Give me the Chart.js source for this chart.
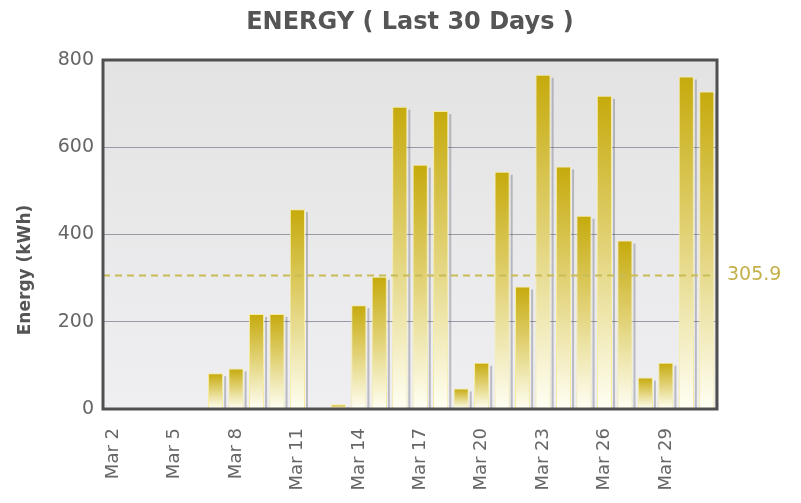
<!DOCTYPE html>
<html>
<head>
<meta charset="utf-8">
<script src="https://cdn.jsdelivr.net/npm/chart.js@4/dist/chart.umd.min.js"></script>
<style>
  body { margin: 0; background: #fff; }
  #wrap { width: 801px; height: 503px; position: relative; }
</style>
</head>
<body>
<div id="wrap"><canvas id="energy-chart"></canvas></div>
<script>
// days shown on the x axis (Mar 2 .. Mar 31)
const days = ['Mar 2','Mar 3','Mar 4','Mar 5','Mar 6','Mar 7','Mar 8','Mar 9','Mar 10','Mar 11',
  'Mar 12','Mar 13','Mar 14','Mar 15','Mar 16','Mar 17','Mar 18','Mar 19','Mar 20','Mar 21',
  'Mar 22','Mar 23','Mar 24','Mar 25','Mar 26','Mar 27','Mar 28','Mar 29','Mar 30','Mar 31']
// daily energy in kWh
const energy = [0, 0, 0, 0, 0, 82, 93, 218, 218, 458,
  0, 11, 238, 303, 693, 560, 683, 47, 106, 544,
  281, 766, 556, 443, 718, 386, 72, 106, 762, 728]
// average over the period, drawn as dashed line
const average = 305.9
const yTicks = [0, 200, 400, 600, 800]
const chartTitle = 'ENERGY ( Last 30 Days )'
const yTitle = 'Energy (kWh)'

const chartCanvas = document.querySelector('#energy-chart')

// background of the plot, titles, frame and average line
const plotDecor = {
  id: 'plotDecor',
  beforeDraw(chart) {
    const { ctx, chartArea: a } = chart
    const g = ctx.createLinearGradient(0, a.top, 0, a.bottom)
    g.addColorStop(0, '#e3e3e3')
    g.addColorStop(1, '#efeff2')
    ctx.save()
    ctx.fillStyle = g
    ctx.fillRect(a.left, a.top, a.right - a.left, a.bottom - a.top)

    // chart title, centred over the plot
    ctx.fillStyle = '#555'
    ctx.font = 'bold 24px "DejaVu Sans"'
    ctx.textAlign = 'center'
    ctx.textBaseline = 'middle'
    ctx.fillText(chartTitle, (a.left + a.right) / 2, 23)

    // y axis title
    ctx.translate(26, 270)
    ctx.rotate(-Math.PI / 2)
    ctx.font = 'bold 17px "DejaVu Sans"'
    ctx.fillText(yTitle, 0, 0)
    ctx.restore()
  },
  beforeDatasetsDraw(chart) {
    // little grey shadow right of each bar
    const { ctx } = chart
    const meta = chart.getDatasetMeta(0)
    ctx.save()
    ctx.fillStyle = 'rgba(90,90,110,0.35)'
    meta.data.forEach((bar, i) => {
      if (!energy[i]) return
      const w = bar.width
      ctx.fillRect(bar.x + w / 2 + 1, bar.y + 3, 2, bar.base - bar.y - 3)
    })
    ctx.restore()
  },
  afterDatasetsDraw(chart) {
    const { ctx, chartArea: a, scales } = chart
    const y = scales.y.getPixelForValue(average)
    ctx.save()
    ctx.strokeStyle = '#c9bb55'
    ctx.lineWidth = 2
    ctx.setLineDash([7, 5])
    ctx.beginPath()
    ctx.moveTo(a.left, y)
    ctx.lineTo(a.right, y)
    ctx.stroke()
    ctx.setLineDash([])
    ctx.fillStyle = '#c4b04a'
    ctx.font = '19px "DejaVu Sans"'
    ctx.textBaseline = 'middle'
    ctx.fillText(average.toFixed(1), a.right + 10, y)
    // frame
    ctx.strokeStyle = '#505050'
    ctx.lineWidth = 3
    ctx.strokeRect(a.left, a.top, a.right - a.left, a.bottom - a.top)
    ctx.restore()
  }
}

const energyChart = new Chart(chartCanvas, {
  type: 'bar',
  data: {
    labels: days,
    datasets: [{
      data: energy,
      backgroundColor: function(context) {
        const chart = context.chart
        const a = chart.chartArea
        if (!a) return '#c8ad10'
        const v = context.raw || 0
        const top = chart.scales.y.getPixelForValue(v)
        const g = chart.ctx.createLinearGradient(0, top, 0, a.bottom)
        g.addColorStop(0, '#c6aa0c')
        g.addColorStop(0.45, '#e0d070')
        g.addColorStop(1, '#fffff4')
        return g
      },
      borderColor: '#f6ec9a',
      borderWidth: 1,
      barPercentage: 0.74,
      categoryPercentage: 1
    }]
  },
  plugins: [plotDecor],
  options: {
    responsive: true,
    maintainAspectRatio: false,
    animation: false,
    layout: { padding: { left: 0, right: 84, top: 60, bottom: 0 } },
    plugins: {
      legend: { display: false },
      tooltip: { enabled: false },
      title: { display: false }
    },
    scales: {
      x: {
        offset: true,
        grid: { display: false },
        border: { display: false },
        ticks: {
          color: '#666',
          font: { family: 'DejaVu Sans', size: 18 },
          maxRotation: 90,
          minRotation: 90,
          autoSkip: false,
          padding: 11,
          callback: function(value, index) {
            return index % 3 === 0 ? days[index] : ''
          }
        },
        afterFit: function(scale) { scale.height = 94 }
      },
      y: {
        min: 0,
        max: 800,
        afterBuildTicks: function(scale) {
          scale.ticks = yTicks.map(v => ({ value: v }))
        },
        grid: { color: '#9a9aa6', drawTicks: false, lineWidth: 1 },
        border: { display: false },
        ticks: {
          color: '#666',
          font: { family: 'DejaVu Sans', size: 19 },
          padding: 9
        },
        afterFit: function(scale) { scale.width = 103 }
      }
    }
  }
})
</script>
</body>
</html>
